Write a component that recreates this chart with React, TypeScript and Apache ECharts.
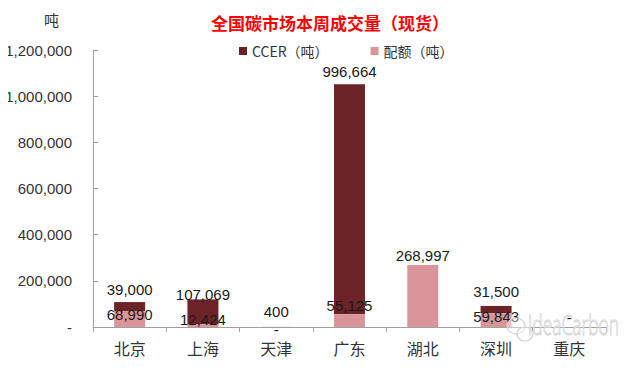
import React, { useEffect, useRef } from "react";
import * as echarts from "echarts";

const categories = ["北京", "上海", "天津", "广东", "湖北", "深圳", "重庆"];
const ccerValues = [39000, 107069, 400, 996664, 0, 31500, 0];
const quotaValues = [68990, 12424, 0, 55125, 268997, 59843, 0];
const yTicks = { min: 0, max: 1200000, interval: 200000 };

// label placement tweaks (styling only)
const ccerLabelOffsets: [number, number][] = [[0, 0], [0, 8], [0, -3], [0, 0], [0, 0], [0, -2], [0, 3]];
const ccerLabelShow = [true, true, true, true, false, true, true];
const quotaLabelPos = ["inside", "inside", "inside", "inside", "top", "inside", "inside"];
const quotaLabelOffsets: [number, number][] = [[0, -5], [0, -6], [0, 2], [0, -15], [0, 3], [0, -4], [0, 0]];
const quotaLabelShow = [true, true, true, true, true, true, false];

const fmt = (v: number) => (v === 0 ? "-" : v.toLocaleString("en-US"));

const NUM_FONT = "'Liberation Sans', Arial, 'Noto Sans CJK SC', sans-serif";
const CJK_FONT = "'Noto Sans CJK SC', 'Liberation Sans', sans-serif";

export default function App() {
  const ref = useRef<HTMLDivElement>(null);
  useEffect(() => {
    if (!ref.current) return;
    const chart = echarts.init(ref.current, undefined, { renderer: "svg" });
    const labelBase = {
      show: true,
      color: "#1a1a1a",
      fontSize: 15,
      fontFamily: NUM_FONT,
      formatter: (p: any) => fmt(p.value),
    };
    chart.setOption({
      animation: false,
      backgroundColor: "#ffffff",
      title: {
        text: "全国碳市场本周成交量（现货）",
        left: 206,
        top: 9,
        textStyle: { color: "#ff0000", fontSize: 17, fontWeight: "bold", fontFamily: CJK_FONT },
      },
      legend: {
        left: 234,
        top: 39,
        itemWidth: 8,
        itemHeight: 8,
        itemGap: 42,
        icon: "rect",
        textStyle: { color: "#333", fontSize: 14, fontFamily: CJK_FONT },
        data: ["CCER（吨）", "配额（吨）"],
      },
      graphic: [
        {
          type: "text",
          left: 44,
          top: 12,
          style: { text: "吨", fill: "#333", font: `15px ${CJK_FONT}` },
        },
        {
          type: "ellipse",
          z: 100,
          shape: { cx: 516, cy: 326, rx: 9, ry: 8 },
          style: { fill: "rgba(255,255,255,0.4)", stroke: "#d2d2d2", lineWidth: 1.2 },
        },
        {
          type: "ellipse",
          z: 100,
          shape: { cx: 525, cy: 334, rx: 8, ry: 7 },
          style: { fill: "rgba(255,255,255,0.4)", stroke: "#d2d2d2", lineWidth: 1.2 },
        },
        {
          type: "text",
          x: 528,
          y: 310,
          scaleX: 0.62,
          z: 100,
          style: {
            text: "IdeaCarbon",
            font: `300 28px 'Open Sans', sans-serif`,
            fill: "rgba(255,255,255,0.35)",
            stroke: "#cdcdcd",
            lineWidth: 1,
          },
        },
      ],
      grid: { left: 93, right: 36, top: 50, bottom: 42, containLabel: false },
      xAxis: {
        type: "category",
        data: categories,
        boundaryGap: true,
        axisLine: { lineStyle: { color: "#a0a0a0" } },
        axisTick: { show: true, alignWithLabel: false, length: 5, lineStyle: { color: "#a0a0a0" } },
        axisLabel: { color: "#333", fontSize: 16, fontFamily: CJK_FONT, margin: 13 },
      },
      yAxis: {
        type: "value",
        min: yTicks.min,
        max: yTicks.max,
        interval: yTicks.interval,
        splitLine: { show: false },
        axisLine: { show: true, lineStyle: { color: "#a0a0a0" } },
        axisTick: { show: true, inside: true, length: 5, lineStyle: { color: "#a0a0a0" } },
        axisLabel: {
          color: "#333",
          fontSize: 15,
          fontFamily: NUM_FONT,
          margin: 21,
          formatter: (v: number) => fmt(v),
        },
      },
      series: [
        {
          name: "配额（吨）",
          type: "bar",
          stack: "total",
          barWidth: 31,
          itemStyle: { color: "#d9959a" },
          data: quotaValues.map((v, i) => ({
            value: v,
            label: {
              ...labelBase,
              show: quotaLabelShow[i],
              position: quotaLabelPos[i],
              offset: quotaLabelOffsets[i],
            },
          })),
          z: 4,
        },
        {
          name: "CCER（吨）",
          type: "bar",
          stack: "total",
          barWidth: 31,
          itemStyle: { color: "#6b2328" },
          data: ccerValues.map((v, i) => ({
            value: v,
            label: {
              ...labelBase,
              show: ccerLabelShow[i],
              position: "top",
              distance: 5,
              offset: ccerLabelOffsets[i],
            },
          })),
          z: 3,
        },
      ],
    });
    return () => chart.dispose();
  }, []);
  return <div ref={ref} style={{ width: 642, height: 369, margin: -8 }} />;
}
